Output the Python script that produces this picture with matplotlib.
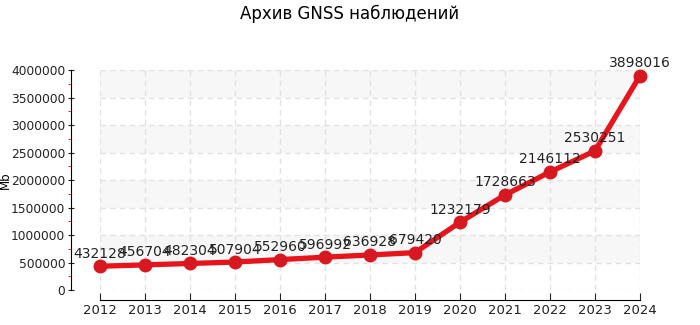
import matplotlib
matplotlib.use("Agg")
import matplotlib.pyplot as plt
from matplotlib.ticker import MultipleLocator

years = [2012, 2013, 2014, 2015, 2016, 2017, 2018, 2019, 2020, 2021, 2022, 2023, 2024]
values = [432128, 456704, 482304, 507904, 552960, 596992, 636928, 679420,
          1232179, 1728663, 2146112, 2530251, 3898016]
labels = ["432128", "456704", "482304", "507904", "552960", "596992", "636928",
          "679420", "1232179", "1728663", "2146112", "2530251", "3898016"]
title = "Архив GNSS наблюдений"
ylabel = "Mb"

plt.rcParams['font.family'] = ['DejaVu Sans']
fig = plt.figure(figsize=(7, 3.25), dpi=100)
ax = fig.add_axes([100/700, 1-290/325, 540/700, 220/325])

ymax = 4000000
ax.set_xlim(2012, 2024)
ax.set_ylim(0, ymax)

# alternating bands
for i in range(0, 8):
    if i % 2 == 1:
        ax.axhspan(i*500000, (i+1)*500000, color='#f7f7f7', zorder=0, lw=0)

ax.grid(True, color='#e2e2e2', linestyle=(0, (4, 3)), lw=1)
ax.set_axisbelow(True)

ax.plot(years, values, color='#e8141c', lw=3.8, marker='o', markersize=9,
        markerfacecolor='#d81820', markeredgecolor='#d81820', clip_on=False, zorder=3)

for x, y, t in zip(years, values, labels):
    ax.annotate(t, (x, y), xytext=(0, 4), textcoords='offset points',
                ha='center', va='bottom', fontsize=10, color='#222222', zorder=4)

ax.set_xticks(years)
ax.yaxis.set_major_locator(MultipleLocator(500000))
ax.yaxis.set_minor_locator(MultipleLocator(250000))
ax.ticklabel_format(axis='y', style='plain', useOffset=False)

for s in ['top', 'right']:
    ax.spines[s].set_visible(False)
ax.spines['left'].set_position(('outward', 21))
ax.spines['bottom'].set_position(('outward', 7))
ax.spines['left'].set_bounds(0, ymax)
ax.spines['bottom'].set_bounds(2012, 2024)

ax.tick_params(axis='y', which='major', direction='inout', length=5, labelsize=8.8, pad=1.5, colors='#222222')
ax.tick_params(axis='y', which='minor', direction='out', length=2.5, color='red')
ax.tick_params(axis='x', which='major', direction='in', length=5, labelsize=9.5, pad=3, colors='#222222')

ax.set_ylabel(ylabel, fontsize=8.5)
ax.yaxis.label.set_va('center')
ax.yaxis.set_label_coords(-95/540, 0.5)
fig.suptitle(title, fontsize=12, y=0.985)

fig.savefig("out.png", dpi=100)
